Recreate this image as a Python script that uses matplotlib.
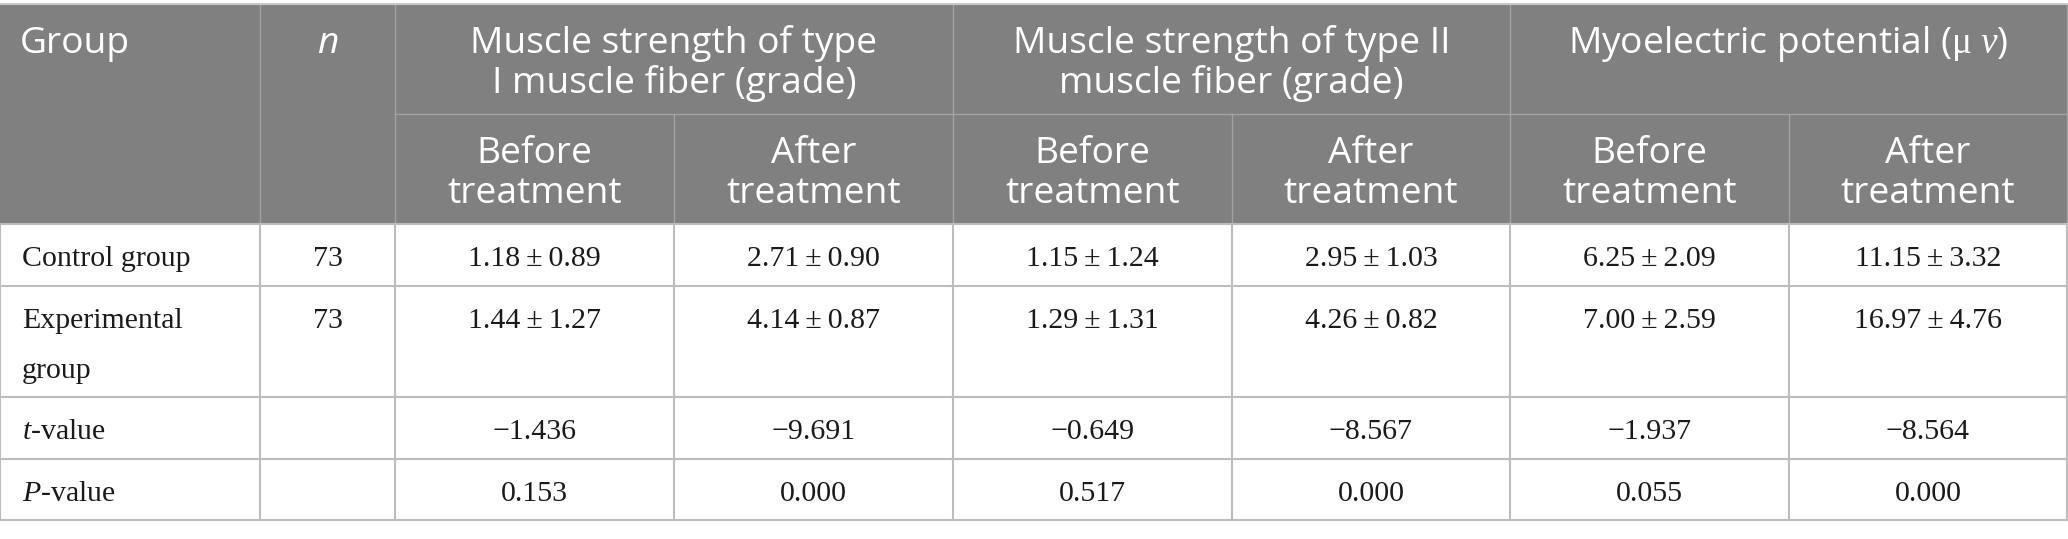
import matplotlib
matplotlib.use('Agg')
import matplotlib.pyplot as plt
from matplotlib.patches import Rectangle

# ================= 表格数据 ===================

group_title = 'Group'
n_title = 'n'
span_titles = [
    ['Muscle strength of type', 'I muscle fiber (grade)'],
    ['Muscle strength of type II', 'muscle fiber (grade)'],
    [r'Myoelectric potential ($\mathrm{\mu}\ \nu$)'],
]
sub_titles = [['Before', 'treatment'], ['After', 'treatment']] * 3

row_labels = [['Control group'], ['Experimental', 'group'], [r'$t$-value'], [r'$P$-value']]
n_values = ['73', '73', '', '']
type1_before = ['1.18\u2009±\u20090.89', '1.44\u2009±\u20091.27', '−1.436', '0.153']
type1_after = ['2.71\u2009±\u20090.90', '4.14\u2009±\u20090.87', '−9.691', '0.000']
type2_before = ['1.15\u2009±\u20091.24', '1.29\u2009±\u20091.31', '−0.649', '0.517']
type2_after = ['2.95\u2009±\u20091.03', '4.26\u2009±\u20090.82', '−8.567', '0.000']
emg_before = ['6.25\u2009±\u20092.09', '7.00\u2009±\u20092.59', '−1.937', '0.055']
emg_after = ['11.15\u2009±\u20093.32', '16.97\u2009±\u20094.76', '−8.564', '0.000']
value_cols = [type1_before, type1_after, type2_before, type2_after, emg_before, emg_after]

# ================= 版式 ===================

W, H = 2068, 539
col_x = [0, 260, 395, 674, 953, 1232, 1510, 1789, 2067]
row_y = [4, 114, 224, 286, 397, 459, 520]

head_bg = '#808080'
head_line = '#a3a3a3'
body_line = '#bcbcbc'
head_font = 'Open Sans'
body_font = 'Liberation Serif'
head_size = 26.7
body_size = 21.5

plt.rcParams['mathtext.fontset'] = 'custom'
plt.rcParams['mathtext.rm'] = 'Liberation Serif'
plt.rcParams['mathtext.it'] = 'Liberation Serif:italic'

fig = plt.figure(figsize=(W / 100, H / 100), dpi=100)
ax = fig.add_axes([0, 0, 1, 1])
ax.set_xlim(0, W)
ax.set_ylim(H, 0)
ax.axis('off')

# 表头底色
ax.add_patch(Rectangle((0, row_y[0]), col_x[-1], row_y[2] - row_y[0],
                       facecolor=head_bg, edgecolor='none', zorder=0))

# 表头网格线
ax.plot([0, W], [row_y[0], row_y[0]], color='#c8c8c8', lw=1.5, zorder=2)
for x in [col_x[1], col_x[2], col_x[4], col_x[6]]:
    ax.plot([x, x], [row_y[0], row_y[2]], color=head_line, lw=1, zorder=1)
for x in [col_x[3], col_x[5], col_x[7]]:
    ax.plot([x, x], [row_y[1], row_y[2]], color=head_line, lw=1, zorder=1)
ax.plot([col_x[2], col_x[-1]], [row_y[1], row_y[1]], color=head_line, lw=1, zorder=1)
ax.plot([col_x[-1], col_x[-1]], [row_y[0], row_y[2]], color=head_line, lw=1, zorder=1)

# 表体网格线
for y in row_y[2:]:
    ax.plot([0, col_x[-1]], [y, y], color=body_line, lw=1.5, zorder=1)
for x in col_x:
    ax.plot([x, x], [row_y[2], row_y[-1]], color=body_line, lw=1.5, zorder=1)


def head_lines(lines, xc, top, ha='center', style='normal'):
    for i, s in enumerate(lines):
        ax.text(xc, top + 49 + i * 40, s, ha=ha, va='baseline', color='white',
                fontsize=head_size, family=[head_font, 'DejaVu Sans'], fontstyle=style)


# 表头文字
head_lines([group_title], 20, row_y[0], ha='left')
head_lines([n_title], (col_x[1] + col_x[2]) / 2, row_y[0], style='italic')
for k, lines in enumerate(span_titles):
    xc = (col_x[2 + 2 * k] + col_x[4 + 2 * k]) / 2
    head_lines(lines, xc, row_y[0])
for k, lines in enumerate(sub_titles):
    xc = (col_x[2 + k] + col_x[3 + k]) / 2
    head_lines(lines, xc, row_y[1])

# 表体文字
for r in range(len(row_labels)):
    top = row_y[2 + r]
    for i, s in enumerate(row_labels[r]):
        ax.text(22, top + 42 + i * 50, s, ha='left', va='baseline', color='#1a1a1a',
                fontsize=body_size, family=body_font)
    ax.text((col_x[1] + col_x[2]) / 2, top + 42, n_values[r], ha='center', va='baseline',
            color='#1a1a1a', fontsize=body_size, family=body_font)
    for c, vals in enumerate(value_cols):
        xc = (col_x[2 + c] + col_x[3 + c]) / 2
        ax.text(xc, top + 42, vals[r], ha='center', va='baseline', color='#1a1a1a',
                fontsize=body_size, family=[body_font, 'DejaVu Serif'])

fig.savefig('out.png', dpi=100, facecolor='white')
